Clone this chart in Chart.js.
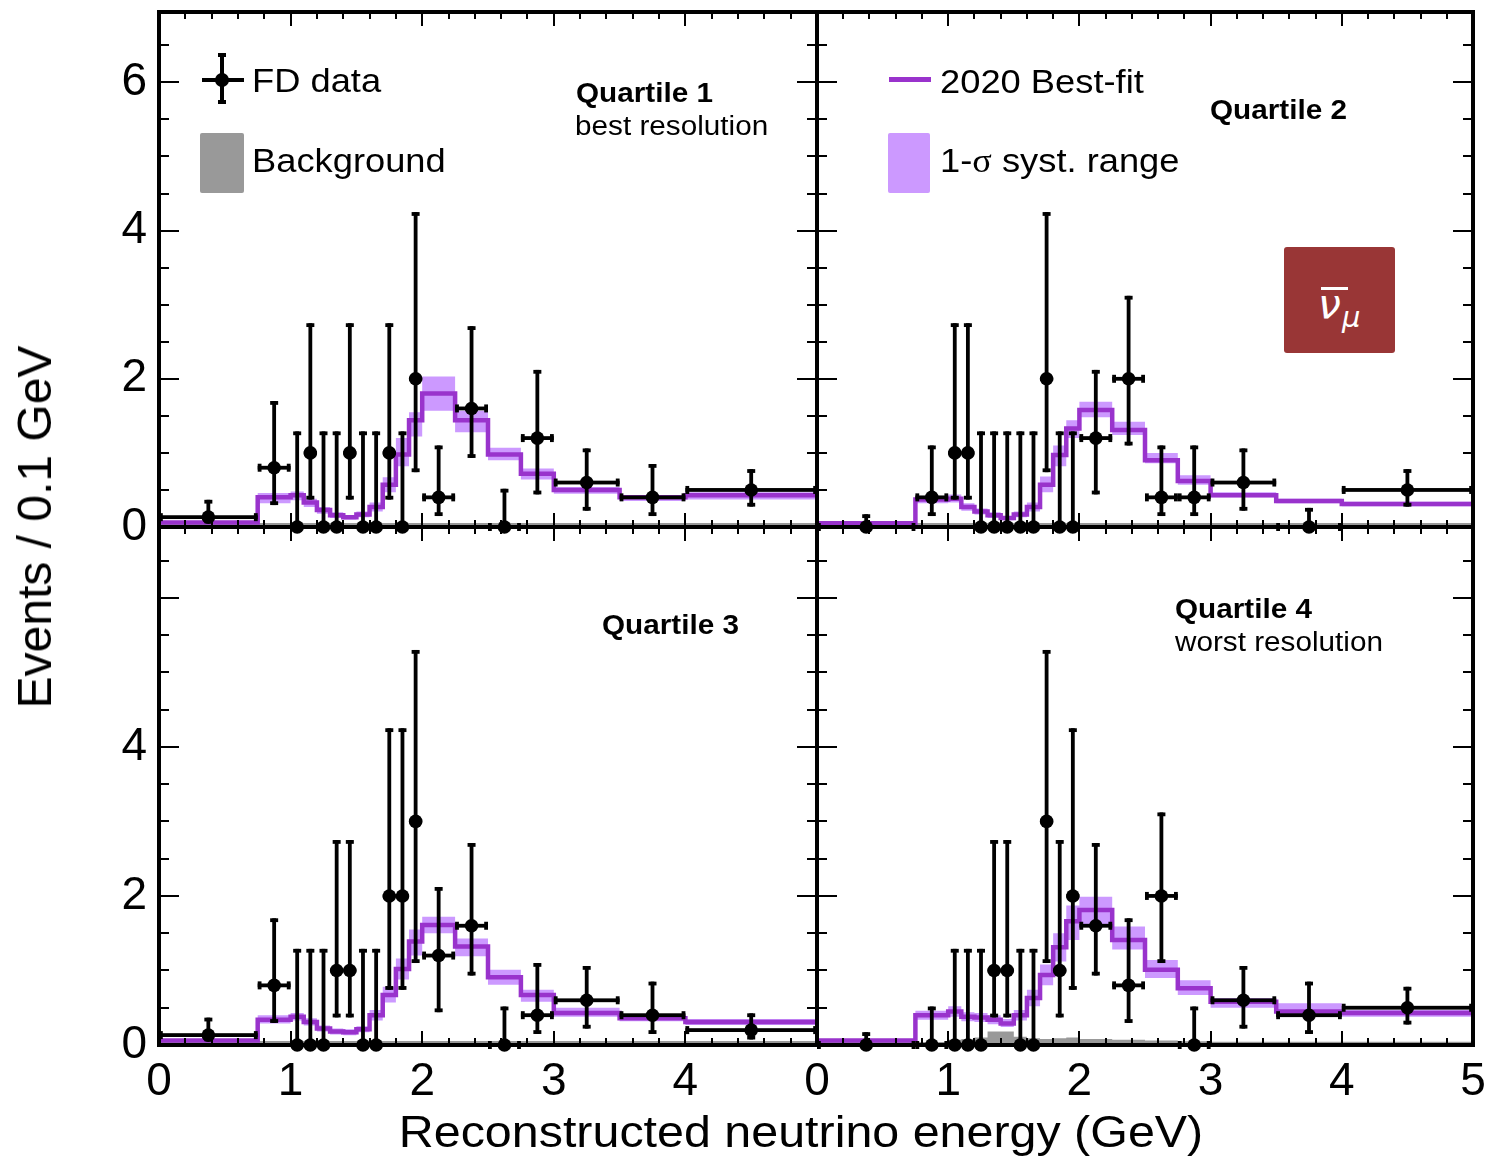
<!DOCTYPE html>
<html lang="en">
<head>
<meta charset="utf-8">
<title>FD antineutrino energy spectra by resolution quartile</title>
<script src="https://cdn.jsdelivr.net/npm/chart.js@4.4.1/dist/chart.umd.min.js"></script>
<style>
  html, body { margin: 0; padding: 0; background: #ffffff; }
  #figure { position: relative; width: 1488px; height: 1158px; overflow: hidden;
            font-family: "Liberation Sans", Arial, Helvetica, sans-serif; color: #000; }
  #figure canvas { position: absolute; left: 0; top: 0; pointer-events: none; }
  .label { position: absolute; white-space: nowrap; line-height: 1; transform-origin: 0 50%; }
  .legend-text { font-size: 33px; transform: scaleX(1.1); }
  .quartile { font-size: 27px; transform: scaleX(1.1); }
  .quartile.bold { font-weight: bold; }
  .sigma { font-family: "Liberation Serif", "DejaVu Serif", serif; }
  .swatch { position: absolute; }
  #xtitle { position: absolute; left: 801px; top: 1110px; font-size: 44px; line-height: 1;
            white-space: nowrap; transform: translate(-50%, 0) scaleX(1.1); transform-origin: 50% 50%; }
  #ytitle { position: absolute; left: 35px; top: 527px; font-size: 48px; line-height: 1;
            white-space: nowrap; transform: translate(-50%, -50%) rotate(-90deg); transform-origin: 50% 50%; }
  #nubox { position: absolute; left: 1284px; top: 247px; width: 111px; height: 106px;
           background: #993636; border-radius: 3px; }
  #nubox span { position: absolute; color: #fff; font-family: "DejaVu Sans", sans-serif;
                font-style: italic; line-height: 1; }
  #nubox .bar { position: absolute; background: #fff; }
</style>
</head>
<body>
<div id="figure">
  <canvas id="q1" width="1488" height="1158"></canvas>
  <canvas id="q2" width="1488" height="1158"></canvas>
  <canvas id="q3" width="1488" height="1158"></canvas>
  <canvas id="q4" width="1488" height="1158"></canvas>

  <!-- legend, left panel -->
  <div class="swatch" style="left:220px;top:53px;width:4px;height:51px;background:#000"></div>
  <div class="swatch" style="left:218px;top:53px;width:8px;height:4px;background:#000"></div>
  <div class="swatch" style="left:218px;top:100px;width:8px;height:4px;background:#000"></div>
  <div class="swatch" style="left:202px;top:78px;width:42px;height:4px;background:#000"></div>
  <div class="swatch" style="left:215px;top:73px;width:14px;height:14px;border-radius:50%;background:#000"></div>
  <div class="label legend-text" style="left:252px;top:64px">FD data</div>
  <div class="swatch" style="left:200px;top:133px;width:44px;height:60px;background:#999999;border-radius:2px"></div>
  <div class="label legend-text" style="left:252px;top:144px">Background</div>

  <!-- legend, right panel -->
  <div class="swatch" style="left:889px;top:77px;width:42px;height:5px;background:#9933cc"></div>
  <div class="label legend-text" style="left:940px;top:65px">2020 Best-fit</div>
  <div class="swatch" style="left:888px;top:133px;width:42px;height:60px;background:#cc99ff;border-radius:2px"></div>
  <div class="label legend-text" style="left:940px;top:144px">1-<span class="sigma">σ</span> syst. range</div>

  <!-- panel captions -->
  <div class="label quartile bold" style="left:576px;top:80px">Quartile 1</div>
  <div class="label quartile" style="left:575px;top:113px">best resolution</div>
  <div class="label quartile bold" style="left:1210px;top:97px">Quartile 2</div>
  <div class="label quartile bold" style="left:602px;top:612px">Quartile 3</div>
  <div class="label quartile bold" style="left:1175px;top:596px">Quartile 4</div>
  <div class="label quartile" style="left:1175px;top:629px">worst resolution</div>

  <div id="nubox">
    <span style="left:34px;top:37px;font-size:41px">ν</span>
    <div class="bar" style="left:37px;top:40px;width:27px;height:3px"></div>
    <span style="left:58px;top:56px;font-size:29px">μ</span>
  </div>

  <div id="xtitle">Reconstructed neutrino energy (GeV)</div>
  <div id="ytitle">Events / 0.1 GeV</div>
</div>

<script>
// Variable-width reconstructed-energy bins (GeV), shared by all quartiles
const binEdges = [0, 0.75, 1.0, 1.1, 1.2, 1.3, 1.4, 1.5, 1.6, 1.7, 1.8, 1.9, 2.0, 2.25, 2.5, 2.75, 3.0, 3.5, 4.0, 5.0];

// Tick labels
const xTicks = [0, 1, 2, 3, 4, 5];
const xTickLabelsLeft = ['0', '1', '2', '3', '4', ''];
const xTickLabelsRight = ['0', '1', '2', '3', '4', '5'];
const yTicks = [0, 2, 4, 6];
const yTickLabelsTop = ['0', '2', '4', '6'];
const yTickLabelsBottom = ['0', '2', '4', ''];

// Quartile 1 (best resolution): events / 0.1 GeV
const q1Data    = [0.133, 0.8, 0, 1, 0, 0, 1, 0, 0, 1, 0, 2, 0.4, 1.6, 0, 1.2, 0.6, 0.4, 0.5];
const q1ErrLo   = [0.049, 0.296, 0, 0.37, 0, 0, 0.37, 0, 0, 0.37, 0, 0.74, 0.148, 0.932, 0, 0.44, 0.22, 0.148, 0.275];
const q1ErrHi   = [0.367, 1.70, 1.29, 2.75, 1.29, 1.29, 2.75, 1.29, 1.29, 2.75, 1.29, 4.25, 1.10, 2.71, 0.516, 2.12, 1.06, 0.85, 0.781];
const q1Pred    = [0.06, 0.40, 0.43, 0.33, 0.23, 0.16, 0.13, 0.17, 0.27, 0.57, 0.98, 1.44, 1.80, 1.44, 0.98, 0.72, 0.50, 0.40, 0.43];
const q1BandLo  = [0.05, 0.32, 0.36, 0.27, 0.18, 0.12, 0.10, 0.13, 0.21, 0.47, 0.82, 1.22, 1.57, 1.28, 0.90, 0.64, 0.45, 0.35, 0.37];
const q1BandHi  = [0.07, 0.46, 0.48, 0.38, 0.27, 0.20, 0.16, 0.21, 0.33, 0.67, 1.20, 1.55, 2.03, 1.57, 1.07, 0.79, 0.54, 0.43, 0.47];
const q1Bkg     = [0.055, 0.055, 0.055, 0.055, 0.055, 0.055, 0.055, 0.055, 0.055, 0.055, 0.055, 0.055, 0.055, 0.055, 0.055, 0.055, 0.055, 0.055, 0.055];

// Quartile 2
const q2Data    = [0, 0.4, 1, 1, 0, 0, 0, 0, 0, 2, 0, 0, 1.2, 2.0, 0.4, 0.4, 0.6, 0, 0.5];
const q2ErrLo   = [0, 0.148, 0.37, 0.37, 0, 0, 0, 0, 0, 0.74, 0, 0, 0.44, 1.10, 0.148, 0.148, 0.22, 0, 0.275];
const q2ErrHi   = [0.172, 1.10, 2.75, 2.75, 1.29, 1.29, 1.29, 1.29, 1.29, 4.25, 1.29, 1.29, 2.12, 3.12, 1.10, 1.10, 1.06, 0.258, 0.781];
const q2Pred    = [0.05, 0.37, 0.38, 0.27, 0.21, 0.16, 0.12, 0.17, 0.27, 0.57, 0.97, 1.33, 1.58, 1.31, 0.90, 0.62, 0.43, 0.35, 0.31];
const q2BandLo  = [0.04, 0.32, 0.33, 0.22, 0.17, 0.12, 0.09, 0.13, 0.21, 0.47, 0.82, 1.20, 1.48, 1.24, 0.86, 0.57, 0.40, 0.32, 0.28];
const q2BandHi  = [0.06, 0.42, 0.44, 0.32, 0.25, 0.20, 0.15, 0.21, 0.33, 0.68, 1.10, 1.44, 1.69, 1.42, 1.00, 0.70, 0.47, 0.38, 0.34];
const q2Bkg     = [0.055, 0.055, 0.055, 0.055, 0.055, 0.055, 0.055, 0.055, 0.055, 0.055, 0.055, 0.055, 0.055, 0.055, 0.055, 0.055, 0.055, 0.055, 0.055];

// Quartile 3
const q3Data    = [0.133, 0.8, 0, 0, 0, 1, 1, 0, 0, 2, 2, 3, 1.2, 1.6, 0, 0.4, 0.6, 0.4, 0.2];
const q3ErrLo   = [0.049, 0.296, 0, 0, 0, 0.37, 0.37, 0, 0, 0.74, 0.74, 1.10, 0.44, 0.932, 0, 0.148, 0.22, 0.148, 0.074];
const q3ErrHi   = [0.367, 1.70, 1.29, 1.29, 1.29, 2.75, 2.75, 1.29, 1.29, 4.25, 4.25, 5.30, 2.12, 2.71, 0.516, 1.10, 1.06, 0.85, 0.425];
const q3Pred    = [0.06, 0.34, 0.38, 0.31, 0.22, 0.18, 0.17, 0.21, 0.40, 0.67, 1.02, 1.39, 1.61, 1.32, 0.91, 0.67, 0.43, 0.36, 0.31];
const q3BandLo  = [0.05, 0.29, 0.33, 0.26, 0.18, 0.14, 0.13, 0.17, 0.33, 0.57, 0.88, 1.20, 1.50, 1.19, 0.81, 0.58, 0.38, 0.32, 0.27];
const q3BandHi  = [0.07, 0.40, 0.43, 0.36, 0.26, 0.22, 0.21, 0.25, 0.47, 0.78, 1.16, 1.55, 1.72, 1.43, 1.01, 0.74, 0.50, 0.41, 0.35];
const q3Bkg     = [0.055, 0.055, 0.055, 0.055, 0.055, 0.055, 0.055, 0.055, 0.055, 0.055, 0.055, 0.055, 0.055, 0.055, 0.055, 0.055, 0.055, 0.055, 0.055];

// Quartile 4 (worst resolution)
const q4Data    = [0, 0, 0, 0, 0, 1, 1, 0, 0, 3, 1, 2, 1.6, 0.8, 2.0, 0, 0.6, 0.4, 0.5];
const q4ErrLo   = [0, 0, 0, 0, 0, 0.37, 0.37, 0, 0, 1.10, 0.37, 0.74, 0.932, 0.296, 1.10, 0, 0.22, 0.148, 0.275];
const q4ErrHi   = [0.172, 0.516, 1.29, 1.29, 1.29, 2.75, 2.75, 1.29, 1.29, 5.30, 2.75, 4.25, 2.71, 1.70, 3.12, 0.516, 1.06, 0.85, 0.781];
const q4Pred    = [0.06, 0.40, 0.45, 0.38, 0.37, 0.34, 0.29, 0.40, 0.63, 0.94, 1.31, 1.66, 1.81, 1.41, 1.01, 0.76, 0.58, 0.45, 0.43];
const q4BandLo  = [0.05, 0.34, 0.38, 0.32, 0.31, 0.28, 0.24, 0.33, 0.52, 0.80, 1.12, 1.41, 1.59, 1.28, 0.90, 0.67, 0.50, 0.40, 0.38];
const q4BandHi  = [0.07, 0.46, 0.52, 0.44, 0.43, 0.40, 0.35, 0.47, 0.74, 1.08, 1.50, 1.87, 1.99, 1.59, 1.14, 0.87, 0.63, 0.56, 0.47];
const q4Bkg     = [0.04, 0.04, 0.07, 0.08, 0.10, 0.18, 0.18, 0.11, 0.09, 0.08, 0.09, 0.10, 0.08, 0.07, 0.06, 0.05, 0.045, 0.045, 0.045];

const COLOURS = { line: '#9933cc', band: '#cc99ff', background: '#999999', data: '#000000' };
const Y_MAX = 6.95;

// Histogram outline: one point per left bin edge, plus the closing right edge
function stepPoints(values) {
  const pts = values.map((v, i) => ({ x: binEdges[i], y: v }));
  pts.push({ x: binEdges[binEdges.length - 1], y: values[values.length - 1] });
  return pts;
}
function centrePoints(values) {
  return values.map((v, i) => ({ x: (binEdges[i] + binEdges[i + 1]) / 2, y: v }));
}

// Asymmetric error bars for the data points (drawn just before the markers)
const errorBars = {
  id: 'errorBars',
  beforeDatasetDraw(chart, args) {
    if (args.index !== 0) return;
    const ds = chart.data.datasets[0];
    const { x, y } = chart.scales;
    const ctx = chart.ctx;
    ctx.save();
    ctx.fillStyle = COLOURS.data;
    const w = 3.8, cap = 8;
    ds.data.forEach((p, i) => {
      const cx = x.getPixelForValue(p.x);
      const cy = y.getPixelForValue(p.y);
      const x0 = x.getPixelForValue(binEdges[i]);
      const x1 = x.getPixelForValue(binEdges[i + 1]);
      const yl = y.getPixelForValue(ds.errLo[i]);
      const yh = y.getPixelForValue(ds.errHi[i]);
      // vertical bar and caps
      ctx.fillRect(cx - w / 2, yh, w, yl - yh);
      ctx.fillRect(cx - cap / 2, yh, cap, w);
      if (yl - cy > 2) ctx.fillRect(cx - cap / 2, yl - w, cap, w);
      // horizontal bar (bin width) and caps
      ctx.fillRect(x0, cy - w / 2, x1 - x0, w);
      if (x1 - x0 > 20) {
        ctx.fillRect(x0, cy - cap / 2, w, cap);
        ctx.fillRect(x1 - w, cy - cap / 2, w, cap);
      }
    });
    ctx.restore();
  }
};

// Thick frame with inward ticks on all four sides
const frameTicks = {
  id: 'frameTicks',
  afterDraw(chart) {
    const { ctx, chartArea: a, scales: { x, y } } = chart;
    ctx.save();
    ctx.strokeStyle = '#000';
    ctx.lineWidth = 2;
    ctx.beginPath();
    for (let k = 0; k <= 25; k++) {
      const v = k * 0.2;
      const px = Math.round(x.getPixelForValue(v));
      const len = k % 5 === 0 ? 14 : 7;
      ctx.moveTo(px, a.bottom); ctx.lineTo(px, a.bottom - len);
      ctx.moveTo(px, a.top); ctx.lineTo(px, a.top + len);
    }
    for (let k = 0; k * 0.5 <= Y_MAX; k++) {
      const v = k * 0.5;
      const py = Math.round(y.getPixelForValue(v));
      const len = k % 4 === 0 ? 20 : 10;
      ctx.moveTo(a.left, py); ctx.lineTo(a.left + len, py);
      ctx.moveTo(a.right, py); ctx.lineTo(a.right - len, py);
    }
    ctx.stroke();
    ctx.lineWidth = 4;
    ctx.strokeRect(a.left, a.top, a.right - a.left, a.bottom - a.top);
    ctx.restore();
  }
};

function makePanel(id, series, place) {
  const showY = place.col === 0;
  const showX = place.row === 1;
  const xLabels = place.col === 0 ? xTickLabelsLeft : xTickLabelsRight;
  const yLabels = place.row === 0 ? yTickLabelsTop : yTickLabelsBottom;

  const padding = {
    left: place.col === 0 ? 0 : 817,
    right: place.col === 0 ? 1488 - 817 : 15,
    top: place.row === 0 ? 12 : 527,
    bottom: place.row === 0 ? 1158 - 527 : 0
  };

  return new Chart(document.getElementById(id), {
    data: {
      datasets: [
        {
          type: 'scatter', label: 'FD data', data: centrePoints(series.data),
          errLo: series.errLo, errHi: series.errHi,
          pointRadius: 6.8, pointBackgroundColor: COLOURS.data, pointBorderWidth: 0,
          clip: false
        },
        {
          type: 'line', label: '2020 Best-fit', data: stepPoints(series.pred), stepped: 'before',
          borderColor: COLOURS.line, borderWidth: 4.5, pointRadius: 0, fill: false,
          borderCapStyle: 'butt', borderJoinStyle: 'miter'
        },
        {
          type: 'line', label: 'syst. low', data: stepPoints(series.bandLo), stepped: 'before',
          borderWidth: 0, borderColor: 'rgba(0,0,0,0)', pointRadius: 0, fill: false
        },
        {
          type: 'line', label: '1-σ syst. range', data: stepPoints(series.bandHi), stepped: 'before',
          borderWidth: 0, borderColor: 'rgba(0,0,0,0)', pointRadius: 0,
          fill: { target: 2 }, backgroundColor: COLOURS.band
        },
        {
          type: 'line', label: 'Background', data: stepPoints(series.bkg), stepped: 'before',
          borderWidth: 0, borderColor: 'rgba(0,0,0,0)', pointRadius: 0,
          fill: 'origin', backgroundColor: COLOURS.background
        }
      ]
    },
    options: {
      responsive: false,
      animation: false,
      devicePixelRatio: 1,
      layout: { padding },
      plugins: { legend: { display: false }, tooltip: { enabled: false } },
      scales: {
        x: {
          type: 'linear', min: 0, max: 5, display: showX,
          grid: { display: false, drawTicks: false }, border: { display: false },
          afterBuildTicks: (s) => { s.ticks = xTicks.map(v => ({ value: v })); },
          ticks: {
            padding: 10, color: '#000', maxRotation: 0, autoSkip: false,
            font: { size: 46, family: '"Liberation Sans", Arial, sans-serif' },
            callback: (v, i) => xLabels[i]
          },
          afterFit: (s) => { s.height = showX ? 113 : 0; s.paddingLeft = 0; s.paddingRight = 0; }
        },
        y: {
          type: 'linear', min: 0, max: Y_MAX, display: showY,
          grid: { display: false, drawTicks: false }, border: { display: false },
          afterBuildTicks: (s) => { s.ticks = yTicks.map(v => ({ value: v })); },
          ticks: {
            padding: 12, color: '#000', autoSkip: false,
            font: { size: 46, family: '"Liberation Sans", Arial, sans-serif' },
            callback: (v, i) => yLabels[i]
          },
          afterFit: (s) => { s.width = showY ? 159 : 0; s.paddingTop = 0; s.paddingBottom = 0; }
        }
      }
    },
    plugins: [errorBars, frameTicks]
  });
}

makePanel('q1', { data: q1Data, errLo: q1ErrLo, errHi: q1ErrHi, pred: q1Pred, bandLo: q1BandLo, bandHi: q1BandHi, bkg: q1Bkg }, { row: 0, col: 0 });
makePanel('q2', { data: q2Data, errLo: q2ErrLo, errHi: q2ErrHi, pred: q2Pred, bandLo: q2BandLo, bandHi: q2BandHi, bkg: q2Bkg }, { row: 0, col: 1 });
makePanel('q3', { data: q3Data, errLo: q3ErrLo, errHi: q3ErrHi, pred: q3Pred, bandLo: q3BandLo, bandHi: q3BandHi, bkg: q3Bkg }, { row: 1, col: 0 });
makePanel('q4', { data: q4Data, errLo: q4ErrLo, errHi: q4ErrHi, pred: q4Pred, bandLo: q4BandLo, bandHi: q4BandHi, bkg: q4Bkg }, { row: 1, col: 1 });
</script>
</body>
</html>
